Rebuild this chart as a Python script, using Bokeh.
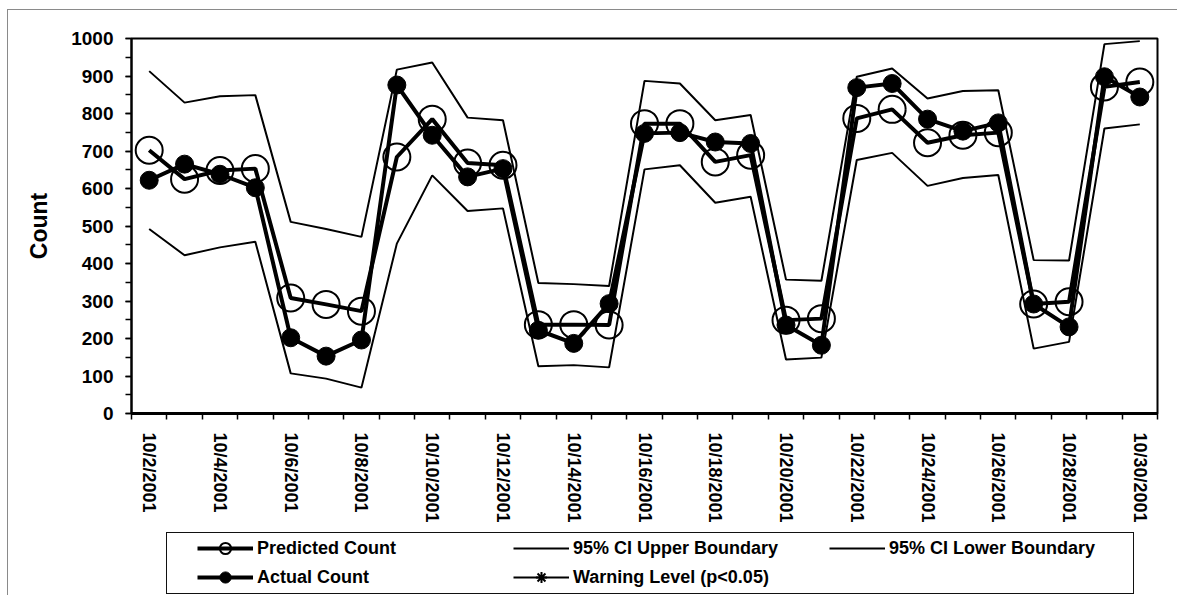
import numpy as np
from bokeh.plotting import figure
from bokeh.layouts import column
from bokeh.models import (Range1d, FixedTicker, Legend, LegendItem,
                          ColumnDataSource)
from bokeh.embed import file_html
from bokeh.resources import INLINE

dates = ["10/2/2001", "10/3/2001", "10/4/2001", "10/5/2001", "10/6/2001",
         "10/7/2001", "10/8/2001", "10/9/2001", "10/10/2001", "10/11/2001",
         "10/12/2001", "10/13/2001", "10/14/2001", "10/15/2001", "10/16/2001",
         "10/17/2001", "10/18/2001", "10/19/2001", "10/20/2001", "10/21/2001",
         "10/22/2001", "10/23/2001", "10/24/2001", "10/25/2001", "10/26/2001",
         "10/27/2001", "10/28/2001", "10/29/2001", "10/30/2001"]

predicted = [702, 625, 648, 653, 308, 291, 273, 684, 785, 668, 662, 237, 237,
             236, 773, 773, 671, 689, 249, 253, 787, 811, 722, 742, 749, 292,
             298, 871, 884]
actual = [622, 665, 638, 602, 202, 153, 196, 876, 742, 631, 653, 222, 187,
          293, 747, 749, 724, 720, 236, 182, 869, 880, 785, 753, 775, 292,
          231, 898, 844]
upper = [913, 829, 846, 849, 511, 492, 471, 917, 936, 789, 782, 348, 345,
         340, 887, 880, 782, 796, 357, 354, 898, 920, 840, 860, 862, 409,
         408, 985, 993]
lower = [492, 422, 443, 458, 107, 93, 69, 453, 635, 540, 547, 126, 129,
         123, 651, 662, 562, 578, 144, 149, 676, 695, 607, 628, 636, 173,
         191, 760, 771]
# no warning-level points appear in the chart
warning = [np.nan] * len(dates)

x = list(range(len(dates)))
src = ColumnDataSource(dict(x=x, predicted=predicted, actual=actual,
                            upper=upper, lower=lower, warning=warning))

FONT = "Liberation Sans"
GRAY = "#8a8a8a"

# ---------------- main chart ----------------
p = figure(width=1177, height=532,
           x_range=Range1d(-0.5, len(dates) - 0.5), y_range=Range1d(0, 1000),
           output_backend="svg", toolbar_location=None,
           min_border_left=131, min_border_right=20,
           min_border_top=38, min_border_bottom=119)
p.border_fill_alpha = 0
p.styles = {
    "background": f"linear-gradient({GRAY},{GRAY}) 7px 9px / 100% 1px no-repeat, "
                  f"linear-gradient({GRAY},{GRAY}) 7px 9px / 1px 100% no-repeat, white",
}
p.xgrid.visible = False
p.ygrid.visible = False
p.outline_line_color = "black"
p.outline_line_width = 2
p.background_fill_color = "white"

ya = p.yaxis[0]
ya.ticker = FixedTicker(ticks=list(range(0, 1001, 100)),
                        minor_ticks=list(range(0, 1001, 50)))
ya.axis_line_width = 2
ya.axis_line_color = "black"
ya.major_tick_out = 6
ya.major_tick_in = 0
ya.minor_tick_out = 6
ya.minor_tick_in = 0
ya.major_tick_line_width = 1.5
ya.minor_tick_line_width = 1.5
ya.major_tick_line_color = "black"
ya.minor_tick_line_color = "black"
ya.major_label_text_font = FONT
ya.major_label_text_font_style = "bold"
ya.major_label_text_font_size = "19px"
ya.major_label_text_color = "black"
ya.major_label_standoff = 12
ya.axis_label = "Count"
ya.axis_label_text_font = FONT
ya.axis_label_text_font_style = "bold"
ya.axis_label_text_font_size = "23px"
ya.axis_label_text_color = "black"
ya.axis_label_standoff = 16

xa = p.xaxis[0]
xa.ticker = FixedTicker(ticks=x[::2],
                        minor_ticks=[i - 0.5 for i in range(len(dates) + 1)])
xa.major_label_overrides = {i: dates[i] for i in x[::2]}
xa.axis_line_width = 3
xa.axis_line_color = "black"
xa.major_tick_line_color = None
xa.major_tick_out = 6
xa.major_tick_in = 0
xa.minor_tick_out = 6
xa.minor_tick_in = 0
xa.minor_tick_line_width = 1.5
xa.minor_tick_line_color = "black"
xa.major_label_orientation = "vertical"
xa.major_label_text_font = FONT
xa.major_label_text_font_style = "bold"
xa.major_label_text_font_size = "18px"
xa.major_label_text_color = "black"
xa.major_label_standoff = 13


def add_series(fig):
    r_pl = fig.line("x", "predicted", source=src, line_width=4, line_color="black")
    r_pc = fig.scatter("x", "predicted", source=src, marker="circle", size=27,
                       fill_color=None, line_color="black", line_width=2)
    r_u = fig.line("x", "upper", source=src, line_width=2, line_color="black")
    r_l = fig.line("x", "lower", source=src, line_width=2, line_color="black")
    r_al = fig.line("x", "actual", source=src, line_width=4, line_color="black")
    r_ac = fig.scatter("x", "actual", source=src, marker="circle", size=18,
                       fill_color="black", line_color="black")
    r_wl = fig.line("x", "warning", source=src, line_width=2, line_color="black")
    r_wm = fig.scatter("x", "warning", source=src, marker="asterisk", size=14,
                       line_color="black", line_width=2)
    return r_pl, r_pc, r_u, r_l, r_al, r_ac, r_wl, r_wm


add_series(p)

# ---------------- legend strip (same series, legend only) ----------------
q = figure(width=1177, height=63,
           x_range=Range1d(-0.5, len(dates) - 0.5), y_range=Range1d(2000, 3000),
           output_backend="svg", toolbar_location=None,
           x_axis_location=None, y_axis_location=None,
           min_border_left=131, min_border_right=20,
           min_border_top=0, min_border_bottom=0)
q.border_fill_alpha = 0
q.background_fill_alpha = 0
q.outline_line_color = None
q.styles = {
    "background": (
        "linear-gradient(#111,#111) 166px 0px / 968px 1px no-repeat, "
        "linear-gradient(#111,#111) 166px 61px / 968px 1px no-repeat, "
        "linear-gradient(#111,#111) 166px 0px / 1px 62px no-repeat, "
        "linear-gradient(#111,#111) 1133px 0px / 1px 62px no-repeat, "
        f"linear-gradient({GRAY},{GRAY}) 7px 0px / 1px 100% no-repeat, white"
    ),
}
q.xgrid.visible = False
q.ygrid.visible = False

r_pl, r_pc, r_u, r_l, r_al, r_ac, r_wl, r_wm = add_series(q)

legend = Legend(items=[
    LegendItem(label="Predicted Count", renderers=[r_pl, r_pc]),
    LegendItem(label="95% CI Upper Boundary", renderers=[r_u]),
    LegendItem(label="95% CI Lower Boundary", renderers=[r_l]),
    LegendItem(label="Actual Count", renderers=[r_al, r_ac]),
    LegendItem(label="Warning Level (p<0.05)", renderers=[r_wl, r_wm]),
],
    location=(66, 4), orientation="horizontal", ncols=3,
    border_line_color=None, background_fill_alpha=0,
    padding=0, margin=0, spacing=1,
    glyph_width=56, glyph_height=28, label_height=28, label_width=255,
    label_standoff=4, label_text_font=FONT, label_text_font_style="bold",
    label_text_font_size="18px", label_text_color="black")
q.add_layout(legend, "center")

layout = column(p, q, spacing=0)
open("out.html", "w").write(file_html(layout, INLINE))
